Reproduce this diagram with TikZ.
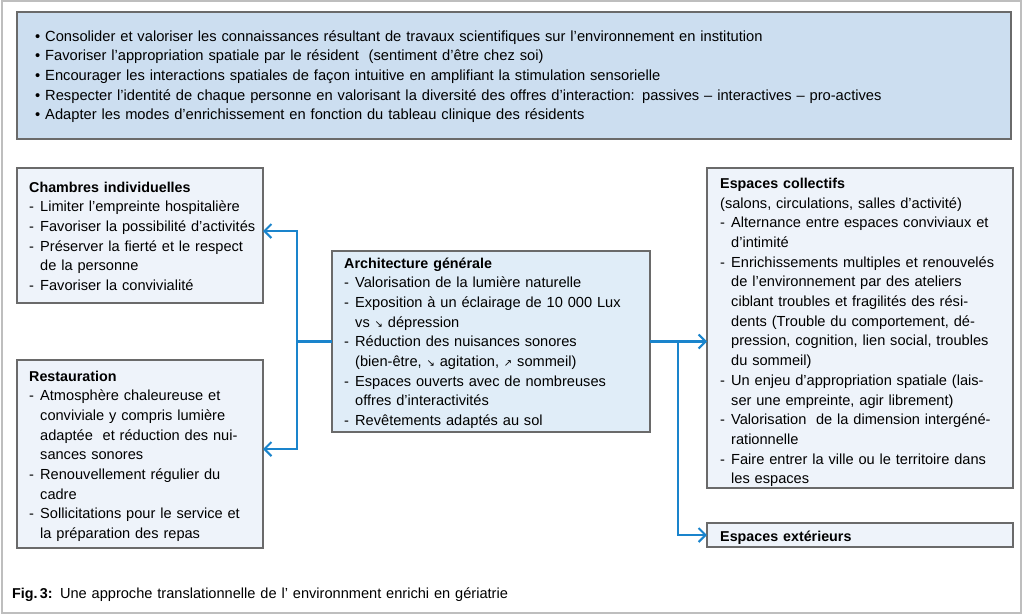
\documentclass[tikz,border=0pt]{standalone}
\usepackage{fontspec}
\setmainfont{Liberation Sans}
\newfontfamily\symf{DejaVu Sans}
\usetikzlibrary{arrows.meta}
\definecolor{topfill}{HTML}{CCDEF0}
\definecolor{boxfill}{HTML}{EEF3FA}
\definecolor{archfill}{HTML}{E0EDF8}
\definecolor{bordc}{HTML}{6A6A6A}
\definecolor{connc}{HTML}{1A84CC}
\definecolor{framec}{HTML}{BEBEBE}
\newcommand{\di}[1]{\makebox[11pt][l]{-}#1}
\newcommand{\ct}[1]{\hspace*{11pt}#1}
\newcommand{\bu}[1]{\makebox[10pt][l]{\textbullet}#1}
\newcommand{\hd}[1]{{\fontsize{14.3}{19.7}\selectfont\bfseries #1}}
\newcommand{\dn}{{\symf\fontsize{10}{10}\selectfont ↘}}
\newcommand{\up}{{\symf\fontsize{10}{10}\selectfont ↗}}
\tikzset{
  box/.style={draw=bordc, line width=1.1pt, inner sep=0pt, outer sep=0pt},
  txt/.style={anchor=base west, inner sep=0pt, align=left, text width=#1,
    font=\fontsize{14.6}{19.7}\selectfont},
  toptxt/.style={anchor=base west, inner sep=0pt, align=left, text width=#1,
    font=\fontsize{14.7}{19.7}\selectfont},
  conn/.style={draw=connc, line width=2.1pt, -{Straight Barb[length=7pt,width=14pt,line width=2.1pt]}},
  connplain/.style={draw=connc, line width=2.1pt},
}
\begin{document}
\begin{tikzpicture}[x=1pt,y=-1pt]
\useasboundingbox (0,0) rectangle (1024,614);
\draw[framec, line width=1.2pt] (2,1) rectangle (1021,613);
% boxes
\node[box, fill=topfill, minimum width=994pt, minimum height=127pt] (topbox) at (514,75.5) {};
\node[box, fill=boxfill, minimum width=246pt, minimum height=135pt] (ch) at (140,235.5) {};
\node[box, fill=boxfill, minimum width=246pt, minimum height=188pt] (rest) at (140,454) {};
\node[box, fill=archfill, minimum width=318pt, minimum height=181pt] (arch) at (491,341.5) {};
\node[box, fill=boxfill, minimum width=306pt, minimum height=320pt] (coll) at (860,328) {};
\node[box, fill=boxfill, minimum width=306pt, minimum height=24pt] (ext) at (860,535) {};
% texts
\node[toptxt=980pt] (toptext) at (35,41) {\bu{Consolider et valoriser les connaissances résultant de travaux scientifiques sur l’environnement en institution}\\
\bu{Favoriser l’appropriation spatiale par le résident\ \ (sentiment d’être chez soi)}\\
\bu{Encourager les interactions spatiales de façon intuitive en amplifiant la stimulation sensorielle}\\
\bu{Respecter l’identité de chaque personne en valorisant la diversité des offres d’interaction: passives – interactives – pro-actives}\\
\bu{Adapter les modes d’enrichissement en fonction du tableau clinique des résidents}};
\node[txt=300pt] (chtext) at (29,192) {\hd{Chambres individuelles}\\
\di{Limiter l’empreinte hospitalière}\\
\di{Favoriser la possibilité d’activités}\\
\di{Préserver la fierté et le respect}\\
\ct{de la personne}\\
\di{Favoriser la convivialité}};
\node[txt=300pt] (resttext) at (29,381) {\hd{Restauration}\\
\di{Atmosphère chaleureuse et}\\
\ct{conviviale y compris lumière}\\
\ct{adaptée\ \ et réduction des nui-}\\
\ct{sances sonores}\\
\di{Renouvellement régulier du}\\
\ct{cadre}\\
\di{Sollicitations pour le service et}\\
\ct{la préparation des repas}};
\node[txt=340pt] (archtext) at (344,268) {\hd{Architecture générale}\\
\di{Valorisation de la lumière naturelle}\\
\di{Exposition à un éclairage de 10 000 Lux}\\
\ct{vs \dn{} dépression}\\
\di{Réduction des nuisances sonores}\\
\ct{(bien-être, \dn{} agitation, \up{} sommeil)}\\
\di{Espaces ouverts avec de nombreuses}\\
\ct{offres d’interactivités}\\
\di{Revêtements adaptés au sol}};
\node[txt=340pt] (colltext) at (720,188.3) {\hd{Espaces collectifs}\\
(salons, circulations, salles d’activité)\\
\di{Alternance entre espaces conviviaux et}\\
\ct{d’intimité}\\
\di{Enrichissements multiples et renouvelés}\\
\ct{de l’environnement par des ateliers}\\
\ct{ciblant troubles et fragilités des rési-}\\
\ct{dents (Trouble du comportement, dé-}\\
\ct{pression, cognition, lien social, troubles}\\
\ct{du sommeil)}\\
\di{Un enjeu d’appropriation spatiale (lais-}\\
\ct{ser une empreinte, agir librement)}\\
\di{Valorisation\ \ de la dimension intergéné-}\\
\ct{rationnelle}\\
\di{Faire entrer la ville ou le territoire dans}\\
\ct{les espaces}};
\node[txt=300pt] (exttext) at (720,541) {\hd{Espaces extérieurs}};
\node[txt=900pt] (caption) at (12,598) {\hd{Fig.\,3:} Une approche translationnelle de l' environnment enrichi en gériatrie};
% connectors
\coordinate (jl) at (297,341.5);
\coordinate (jr) at (678,341.5);
\draw[connplain] (arch.west) -- (jl);
\draw[conn] (jl) |- ([yshift=4.5pt]ch.east);
\draw[conn] (jl) |- ([yshift=5pt]rest.east);
\draw[conn] (arch.east) -- (arch.east -| coll.west);
\draw[conn] (jr) |- (ext.west);
\end{tikzpicture}
\end{document}
